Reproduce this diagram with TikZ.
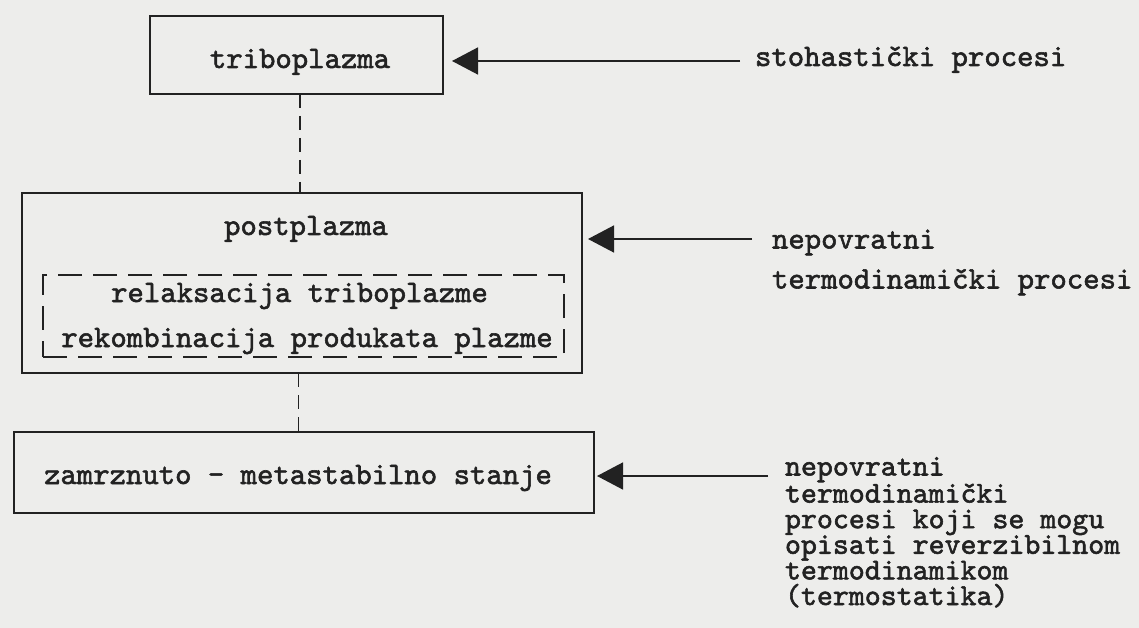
\documentclass[tikz,border=0pt]{standalone}
\usepackage{fontspec}
\setmonofont{lmmono10-regular.otf}[FakeBold=1.8]
\usetikzlibrary{arrows.meta}
\definecolor{bg}{HTML}{EDEDEB}
\definecolor{ink}{HTML}{222222}
\begin{document}
\begin{tikzpicture}[x=1pt,y=-1pt,
  box/.style={draw=ink,line width=1.6pt,inner sep=0pt,outer sep=0pt,rectangle},
  inbox/.style={draw=ink,line width=1.4pt,dash pattern=on 24pt off 11pt,inner sep=0pt,outer sep=0pt,rectangle},
  txt/.style={text=ink,font=\ttfamily\fontsize{31.2}{24}\selectfont,inner sep=0pt,outer sep=0pt},
  conn/.style={draw=ink,line width=1.6pt,dash pattern=on 14pt off 8pt},
  arr/.style={draw=ink,line width=1.5pt,-{Triangle[length=26pt,width=27pt]}},
]
\fill[bg] (0,0) rectangle (1139,628);
\useasboundingbox (0,0) rectangle (1139,628);

% boxes
\node[box,minimum width=293pt,minimum height=78pt] (b1) at (296.5,55) {};
\node[box,minimum width=560pt,minimum height=180pt] (b2) at (302,283) {};
\node[inbox,minimum width=521pt,minimum height=82pt] (ib) at (303.5,316) {};
\node[box,minimum width=580pt,minimum height=81pt] (b3) at (304,472.5) {};

% box texts
\node[txt,anchor=base] (t1) at (300,68) {triboplazma};
\node[txt,anchor=base] (t2) at (306,235) {postplazma};
\node[txt,anchor=base] (t2a) at (299.5,302) {relaksacija triboplazme};
\node[txt,anchor=base] (t2b) at (307,347) {rekombinacija produkata plazme};
\node[txt,anchor=base] (t3) at (298,484) {zamrznuto – metastabilno stanje};

% dashed connectors
\draw[conn] ([xshift=3.5pt]b1.south) -- ([xshift=3.5pt]b1.south |- b2.north);
\draw[conn] ([xshift=-3.5pt]b2.south) -- ([xshift=-3.5pt]b2.south |- b3.north);

% side labels (base anchor = baseline of the last line)
\coordinate (s1) at (740,61);
\coordinate (s2) at (752,239);
\coordinate (s3) at (768,476);
\node[txt,anchor=base west] (l1) at (755,66) {stohastički procesi};
\node[txt,anchor=base west,align=left,font=\ttfamily\fontsize{31.2}{40}\selectfont] (l2) at (772,288.5) {nepovratni\\termodinamički procesi};
\node[txt,anchor=base west,align=left,font=\ttfamily\fontsize{30.4}{25.6}\selectfont] (l3) at (785,605) {nepovratni\\termodinamički\\procesi koji se mogu\\opisati reverzibilnom\\termodinamikom\\(termostatika)};

% arrows
\draw[arr,shorten >=9pt] (s1) -- (s1 -| b1.east);
\draw[arr,shorten >=6pt] (s2) -- (s2 -| b2.east);
\draw[arr,shorten >=3pt] (s3) -- (s3 -| b3.east);
\end{tikzpicture}
\end{document}
